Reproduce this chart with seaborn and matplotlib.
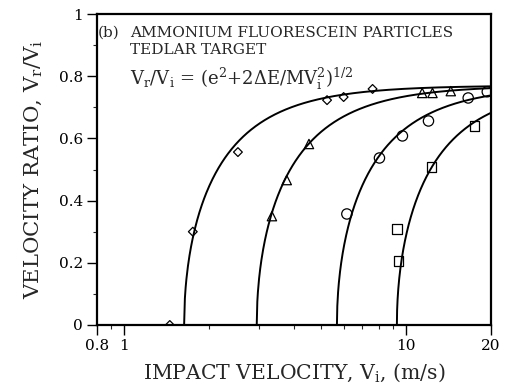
import numpy as np
import pandas as pd
import matplotlib
matplotlib.use("Agg")
import matplotlib.pyplot as plt
from matplotlib.ticker import FixedLocator, FixedFormatter
import seaborn as sns

# Restitution coefficient and threshold (sticking) velocities, m/s
e_coef = 0.77
v_threshold = [1.63, 2.95, 5.68, 9.27]

# Measured points, one set per particle size
diamond_vi = [1.45, 1.75, 2.53, 5.24, 6.0, 7.6]
diamond_vr = [0.0, 0.30, 0.556, 0.723, 0.733, 0.759]

triangle_vi = [3.34, 3.77, 4.52, 11.4, 12.4, 14.4]
triangle_vr = [0.35, 0.466, 0.582, 0.746, 0.746, 0.752]

circle_vi = [6.16, 8.04, 9.7, 12.0, 16.6, 19.4]
circle_vr = [0.357, 0.537, 0.608, 0.656, 0.73, 0.75]

square_vi = [9.3, 9.4, 12.3, 17.5]
square_vr = [0.309, 0.206, 0.508, 0.64]

x_ticks = [0.8, 1, 10, 20]
x_ticklabels = ["0.8", "1", "10", "20"]
y_ticks = [0, 0.2, 0.4, 0.6, 0.8, 1]
y_ticklabels = ["0", "0.2", "0.4", "0.6", "0.8", "1"]

sns.set_style("ticks")
plt.rcParams["font.family"] = ["DejaVu Serif"]
plt.rcParams["mathtext.fontset"] = "dejavuserif"

fig = plt.figure(figsize=(5.07, 3.9), dpi=100)
ax = fig.add_axes([97 / 507, 1 - 325 / 390, (491 - 97) / 507, (325 - 14) / 390])

# Model curves: Vr/Vi = e * sqrt(1 - (V0/Vi)^2)
rows = []
for k, v0 in enumerate(v_threshold):
    vi = np.geomspace(v0, 20, 400)
    ratio = e_coef * np.sqrt(np.clip(1 - (v0 / vi) ** 2, 0, None))
    rows.append(pd.DataFrame({"vi": np.r_[0.8, v0, vi], "vr": np.r_[0, 0, ratio], "set": k}))
curves = pd.concat(rows, ignore_index=True)
sns.lineplot(data=curves, x="vi", y="vr", units="set", estimator=None,
             color="black", lw=1.4, ax=ax, legend=False, sort=False)

mk = dict(facecolor="none", edgecolor="black", linewidth=0.9, ax=ax, legend=False)
sns.scatterplot(x=diamond_vi, y=diamond_vr, marker="D", s=20, zorder=3, **mk)
sns.scatterplot(x=triangle_vi, y=triangle_vr, marker="^", s=45, zorder=3, **mk)
sns.scatterplot(x=circle_vi, y=circle_vr, marker="o", s=55, zorder=3, **mk)
sns.scatterplot(x=square_vi, y=square_vr, marker="s", s=48, zorder=3, **mk)

ax.set_xscale("log")
ax.set_xlim(0.8, 20)
ax.set_ylim(0, 1)
ax.xaxis.set_major_locator(FixedLocator(x_ticks))
ax.xaxis.set_major_formatter(FixedFormatter(x_ticklabels))
ax.xaxis.set_minor_locator(FixedLocator([0.9, 2, 3, 4, 5, 6, 7, 8, 9]))
ax.xaxis.set_minor_formatter(FixedFormatter([]))
ax.yaxis.set_major_locator(FixedLocator(y_ticks))
ax.yaxis.set_major_formatter(FixedFormatter(y_ticklabels))
ax.yaxis.set_minor_locator(FixedLocator([0.1, 0.3, 0.5, 0.7, 0.9]))

ax.tick_params(which="major", direction="out", length=7, width=1, labelsize=11,
               colors="black", pad=3)
ax.tick_params(which="minor", direction="out", length=3, width=0.8)
for s in ax.spines.values():
    s.set_linewidth(1.6)
    s.set_color("black")

ax.set_xlabel(r"IMPACT VELOCITY, V$_\mathregular{i}$, (m/s)", fontsize=14.7, labelpad=6)
ax.set_ylabel(r"VELOCITY RATIO, V$_\mathregular{r}$/V$_\mathregular{i}$", fontsize=15.3, labelpad=11)

ax.text(0.003, 0.939, "(b)", transform=ax.transAxes, fontsize=11, va="center", ha="left")
ax.text(0.084, 0.939, "AMMONIUM FLUORESCEIN PARTICLES", transform=ax.transAxes,
        fontsize=11, va="center", ha="left")
ax.text(0.084, 0.883, "TEDLAR TARGET", transform=ax.transAxes,
        fontsize=11, va="center", ha="left")
ax.text(0.084, 0.79,
        r"V$_\mathregular{r}$/V$_\mathregular{i}$ = (e$^\mathregular{2}$+2ΔE/MV$_\mathregular{i}^\mathregular{2}$)$^\mathregular{1/2}$",
        transform=ax.transAxes, fontsize=13, va="center", ha="left")

fig.savefig("out.png", dpi=100)
